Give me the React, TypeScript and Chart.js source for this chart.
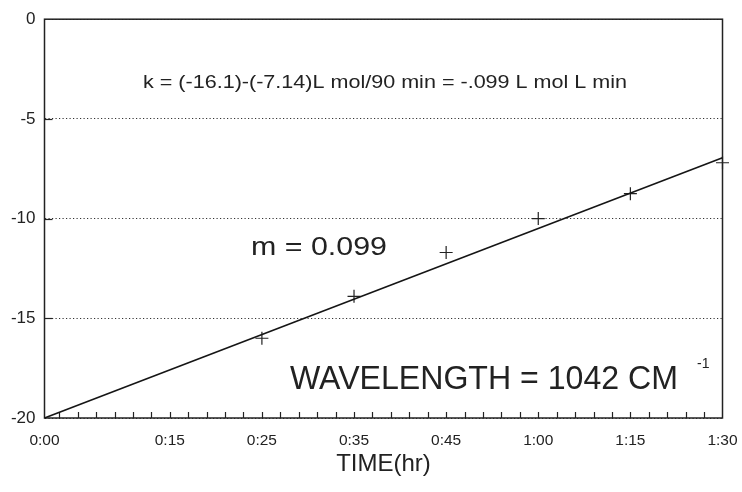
import React, { useEffect, useRef } from 'react';
import { Chart, registerables } from 'chart.js';

Chart.register(...registerables);

// ---- data ----
const timeLabels = ['0:00', '0:15', '0:25', '0:35', '0:45', '1:00', '1:15', '1:30'];
// axis position of each time label (in minor-tick units; the printed axis is not linear in time)
const timeSlots = [0, 6.8, 11.8, 16.8, 21.8, 26.8, 31.8, 36.8];
const measuredTimes = ['0:25', '0:35', '0:45', '1:00', '1:15', '1:30'];
const measuredValues = [-16.0, -13.9, -11.7, -10.0, -8.75, -7.2];
const fitTimes = ['0:00', '1:30'];
const fitValues = [-20.0, -6.95];
const yMin = -20;
const yMax = 0;
const yStep = 5;
const annotationK = 'k = (-16.1)-(-7.14)L mol/90 min = -.099 L mol L min';
const annotationM = 'm = 0.099';
const annotationW = 'WAVELENGTH = 1042 CM';
const annotationWSup = '-1';
const xTitle = 'TIME(hr)';

const FONT = '"Liberation Sans", Arial, Helvetica, sans-serif';
const INK = '#222222';

const slotOf = (t: string) => timeSlots[timeLabels.indexOf(t)];

function drawStretched(
  ctx: CanvasRenderingContext2D,
  text: string,
  x: number,
  y: number,
  fontPx: number,
  targetWidth: number | null
) {
  ctx.save();
  ctx.font = `${fontPx}px ${FONT}`;
  ctx.fillStyle = INK;
  ctx.textAlign = 'left';
  ctx.textBaseline = 'alphabetic';
  const w = ctx.measureText(text).width;
  const sx = targetWidth ? targetWidth / w : 1;
  ctx.translate(x, y);
  ctx.scale(sx, 1);
  ctx.fillText(text, 0, 0);
  ctx.restore();
}

const framePlugin = {
  id: 'framePlugin',
  beforeDatasetsDraw(chart: any) {
    const { ctx, chartArea } = chart;
    const xs = chart.scales.x;
    const ys = chart.scales.y;
    ctx.save();
    ctx.strokeStyle = INK;
    // minor ticks pointing up from the time axis
    ctx.lineWidth = 1.2;
    xs.ticks.forEach((t: any) => {
      if (t.value <= xs.min || t.value >= xs.max) return;
      const px = Math.round(xs.getPixelForValue(t.value)) + 0.5;
      ctx.beginPath();
      ctx.moveTo(px, chartArea.bottom);
      ctx.lineTo(px, chartArea.bottom - 6);
      ctx.stroke();
    });
    // short solid ticks on the value axis
    ys.ticks.forEach((t: any) => {
      if (t.value <= ys.min || t.value >= ys.max) return;
      const py = Math.round(ys.getPixelForValue(t.value)) + 0.5;
      ctx.beginPath();
      ctx.moveTo(chartArea.left, py);
      ctx.lineTo(chartArea.left + 8, py);
      ctx.stroke();
    });
    // frame
    ctx.lineWidth = 1.5;
    ctx.strokeRect(chartArea.left, chartArea.top, chartArea.right - chartArea.left, chartArea.bottom - chartArea.top);
    ctx.restore();
  },
  afterDraw(chart: any) {
    const { ctx } = chart;
    drawStretched(ctx, annotationK, 143, 88, 18.5, 484);
    drawStretched(ctx, annotationM, 251, 255, 25, 136);
    drawStretched(ctx, annotationW, 290, 389, 34, 388);
    drawStretched(ctx, annotationWSup, 697, 368, 14, null);
  },
};

export default function App() {
  const canvasRef = useRef<HTMLCanvasElement | null>(null);

  useEffect(() => {
    if (!canvasRef.current) return;
    const minorTicks: number[] = [];
    const last = timeSlots[timeSlots.length - 1];
    for (let v = last; v > 0; v -= 1) minorTicks.push(Math.round(v * 10) / 10);
    minorTicks.push(0);
    minorTicks.sort((a, b) => a - b);

    const chart = new Chart(canvasRef.current, {
      type: 'scatter',
      data: {
        datasets: [
          {
            label: 'fit',
            data: fitTimes.map((t, i) => ({ x: slotOf(t), y: fitValues[i] })),
            showLine: true,
            borderColor: '#151515',
            borderWidth: 1.6,
            pointRadius: 0,
            clip: false as any,
          },
          {
            label: 'measured',
            data: measuredTimes.map((t, i) => ({ x: slotOf(t), y: measuredValues[i] })),
            showLine: false,
            pointStyle: 'cross',
            pointRadius: 6.5,
            borderColor: INK,
            borderWidth: 1.2,
            backgroundColor: INK,
            clip: false as any,
          },
        ],
      },
      options: {
        animation: false,
        responsive: true,
        maintainAspectRatio: false,
        layout: { padding: { top: 16, right: 19.5, left: 0, bottom: 0 } },
        plugins: {
          legend: { display: false },
          tooltip: { enabled: false },
        },
        scales: {
          x: {
            type: 'linear',
            min: timeSlots[0],
            max: last,
            afterBuildTicks: (s: any) => {
              s.ticks = minorTicks.map((v) => ({ value: v }));
            },
            afterFit: (s: any) => {
              s.height = 74;
              s.paddingLeft = 0;
              s.paddingRight = 0;
            },
            grid: { display: false },
            border: { display: false },
            ticks: {
              autoSkip: false,
              maxRotation: 0,
              minRotation: 0,
              padding: 5,
              color: INK,
              font: { family: FONT, size: 15.5 },
              callback: (value: any) => {
                const idx = timeSlots.findIndex((s) => Math.abs(s - Number(value)) < 1e-6);
                return idx >= 0 ? timeLabels[idx] : '';
              },
            },
            title: {
              display: true,
              text: xTitle,
              color: INK,
              font: { family: FONT, size: 24 },
              padding: { top: 0, bottom: 13 },
            },
          },
          y: {
            type: 'linear',
            min: yMin,
            max: yMax,
            afterFit: (s: any) => {
              s.width = 44.5;
            },
            ticks: {
              stepSize: yStep,
              padding: 9,
              color: INK,
              font: { family: FONT, size: 17 },
            },
            grid: {
              color: '#333333',
              lineWidth: 1,
              drawTicks: false,
            },
            border: { display: false, dash: [1.2, 2.3] },
          },
        },
      },
      plugins: [framePlugin],
    });
    return () => chart.destroy();
  }, []);

  return (
    <div style={{ position: 'fixed', left: 0, top: 0, width: 742, height: 492, background: '#ffffff' }}>
      <canvas ref={canvasRef} />
    </div>
  );
}
